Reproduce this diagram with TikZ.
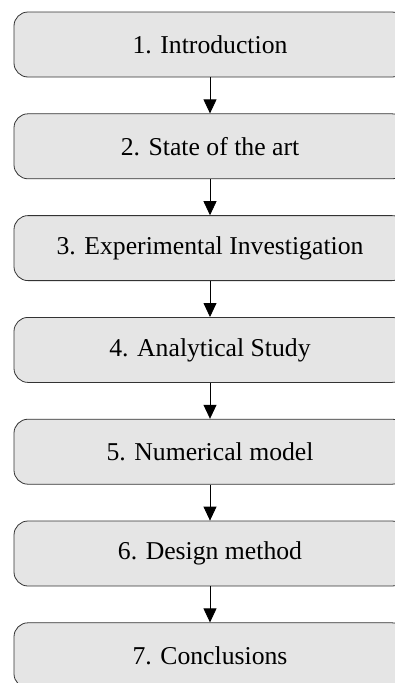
\documentclass[tikz,border=0pt]{standalone}
\usepackage{fontspec}
\setmainfont{Liberation Serif}
\usetikzlibrary{arrows.meta, positioning}

\begin{document}
\begin{tikzpicture}[
  x=1pt, y=-1pt,
  chapbox/.style={draw=black!80, line width=0.8pt, fill=black!10, rounded corners=14pt,
    minimum width=392pt, minimum height=65pt, inner sep=0pt,
    font=\fontsize{25.7}{30}\selectfont},
  flow/.style={-{Triangle[width=13pt, length=14pt]}, line width=0.8pt, black}
  ]
  \useasboundingbox (0,0) rectangle (395,683);
  \clip (0,0) rectangle (395,683);
  % chapters
  \node[chapbox] (intro) at (210,44.5) {1. Introduction};
  \node[chapbox] (state) at (210,146.3) {2. State of the art};
  \node[chapbox] (exper) at (210,248.1) {3. Experimental Investigation};
  \node[chapbox] (analyt) at (210,349.9) {4. Analytical Study};
  \node[chapbox] (numer) at (210,451.7) {5. Numerical model};
  \node[chapbox] (design) at (210,553.5) {6. Design method};
  \node[chapbox] (concl) at (210,655.3) {7. Conclusions};
  % links
  \draw[flow] (intro) -- (state);
  \draw[flow] (state) -- (exper);
  \draw[flow] (exper) -- (analyt);
  \draw[flow] (analyt) -- (numer);
  \draw[flow] (numer) -- (design);
  \draw[flow] (design) -- (concl);
\end{tikzpicture}
\end{document}
